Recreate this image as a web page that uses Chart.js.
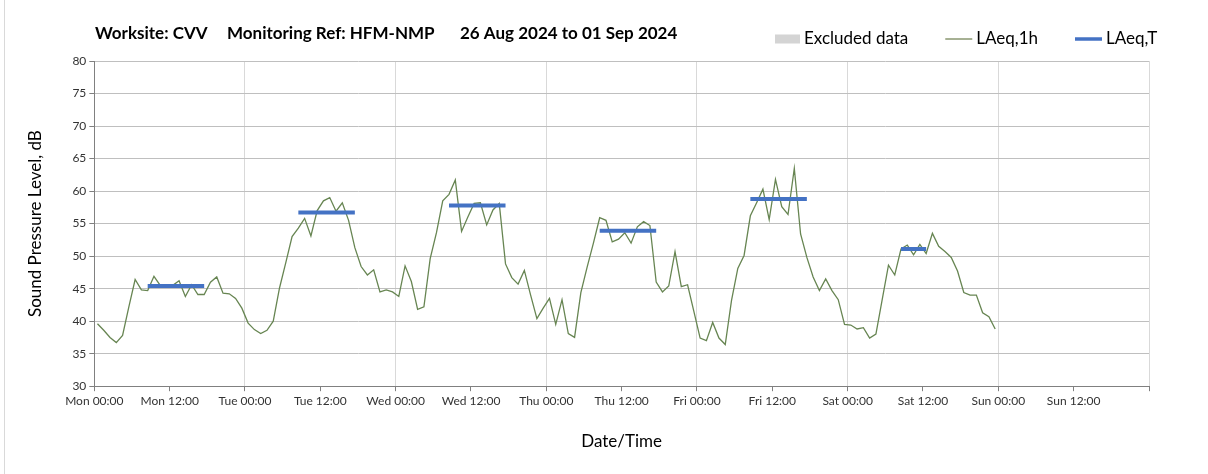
<!DOCTYPE html>
<html>
<head>
<meta charset="utf-8">
<script src="https://cdn.jsdelivr.net/npm/chart.js@4.4.1/dist/chart.umd.min.js"></script>
<style>
  html, body { margin: 0; padding: 0; background: #fff; }
</style>
</head>
<body>
<canvas id="chart" width="1208" height="474"></canvas>
<script>
// hourly LAeq,1h values, Mon 00:00 .. Sat 23:00 (plotted mid-hour)
const laeq1h = [
  39.6, 38.6, 37.5, 36.7, 37.8, 42.2, 46.4, 44.8, 44.7, 46.9, 45.5, 45.3,
  45.5, 46.2, 43.8, 45.6, 44.1, 44.1, 46.0, 46.8, 44.3, 44.2, 43.5, 42.0,
  39.7, 38.7, 38.1, 38.6, 40.0, 45.1, 49.0, 53.0, 54.3, 55.8, 53.1, 57.0,
  58.5, 59.0, 56.9, 58.2, 55.5, 51.3, 48.4, 47.1, 47.9, 44.5, 44.8, 44.5,
  43.8, 48.5, 46.1, 41.8, 42.2, 49.6, 53.6, 58.5, 59.5, 61.7, 53.8, 56.0,
  58.1, 58.2, 54.8, 57.1, 58.1, 48.8, 46.7, 45.7, 47.8, 44.0, 40.4, 42.0,
  43.5, 39.5, 43.3, 38.1, 37.5, 44.4, 48.3, 52.0, 55.9, 55.5, 52.2, 52.6,
  53.6, 52.0, 54.5, 55.3, 54.7, 46.0, 44.5, 45.4, 50.7, 45.3, 45.6, 41.5,
  37.4, 37.0, 39.8, 37.4, 36.4, 43.2, 48.1, 50.1, 56.2, 58.2, 60.3, 55.6,
  61.8, 57.6, 56.4, 63.5, 53.4, 49.8, 46.8, 44.7, 46.5, 44.7, 43.3, 39.5,
  39.4, 38.8, 39.0, 37.4, 38.0, 43.3, 48.6, 47.1, 51.1, 51.7, 50.2, 51.8,
  50.4, 53.5, 51.5, 50.7, 49.8, 47.7, 44.4, 44.0, 44.0, 41.3, 40.7, 38.8
];

// LAeq,T daytime periods (first and last hour index) and levels
const periodStart = [8, 32, 56, 80, 104, 128];
const periodEnd = [17, 41, 65, 89, 113, 132];
const periodLevel = [45.4, 56.7, 57.8, 53.9, 58.8, 51.1];

const dayNames = ['Mon', 'Tue', 'Wed', 'Thu', 'Fri', 'Sat', 'Sun'];
const titleParts = ['Worksite: CVV', 'Monitoring Ref: HFM-NMP', '26 Aug 2024 to 01 Sep 2024'];

const FONT = "Lato, 'Open Sans', sans-serif";

const hourlyPoints = laeq1h.map((v, i) => ({ x: i + 0.5, y: v }));

const periodPoints = [];
periodStart.forEach((s, k) => {
  for (let h = s; h <= periodEnd[k]; h++) periodPoints.push({ x: h + 0.5, y: periodLevel[k] });
  periodPoints.push({ x: periodEnd[k] + 1, y: null });
});

// title row + legend, drawn on the same line
const headerPlugin = {
  id: 'header',
  afterDraw(chart) {
    const ctx = chart.ctx;
    ctx.save();
    ctx.strokeStyle = '#d9d9d9';
    ctx.lineWidth = 1;
    ctx.beginPath();
    ctx.moveTo(4.5, 0);
    ctx.lineTo(4.5, chart.height);
    ctx.stroke();

    ctx.textBaseline = 'middle';
    ctx.fillStyle = '#000';
    ctx.font = 'bold 17px ' + FONT;
    const tx = [95, 227, 460];
    titleParts.forEach((t, i) => ctx.fillText(t, tx[i], 34));

    ctx.font = '17px ' + FONT;
    let x = 775;
    const y = 39;
    chart.data.datasets.forEach(ds => {
      if (ds.legendBox) {
        ctx.fillStyle = ds.backgroundColor;
        ctx.fillRect(x, y - 4.5, 25, 9);
        x += 29;
      } else {
        ctx.strokeStyle = ds.legendColor;
        ctx.lineWidth = ds.borderWidth > 2 ? 3.5 : 1;
        ctx.beginPath();
        ctx.moveTo(x, y);
        ctx.lineTo(x + 27, y);
        ctx.stroke();
        x += 31;
      }
      ctx.fillStyle = '#000';
      ctx.fillText(ds.label, x, y);
      x += ctx.measureText(ds.label).width + 37;
    });
    ctx.restore();
  }
};

new Chart(document.getElementById('chart'), {
  type: 'line',
  data: {
    datasets: [
      {
        label: 'Excluded data',
        data: [],
        legendBox: true,
        backgroundColor: '#d4d4d4',
        borderColor: '#d4d4d4',
        borderWidth: 0
      },
      {
        label: 'LAeq,1h',
        data: hourlyPoints,
        borderColor: '#678552',
        legendColor: '#4f6228',
        borderWidth: 1.3,
        pointRadius: 0,
        tension: 0,
        order: 2
      },
      {
        label: 'LAeq,T',
        data: periodPoints,
        borderColor: '#4472c4',
        legendColor: '#4472c4',
        borderWidth: 4,
        pointRadius: 0,
        spanGaps: false,
        order: 1
      }
    ]
  },
  options: {
    responsive: false,
    animation: false,
    layout: { padding: { top: 61, right: 59, bottom: 22, left: 25 } },
    plugins: {
      legend: { display: false },
      title: { display: false },
      tooltip: { enabled: false }
    },
    scales: {
      x: {
        type: 'linear',
        min: 0,
        max: 168,
        ticks: {
          stepSize: 12,
          autoSkip: false,
          maxRotation: 0,
          padding: 3,
          color: '#333',
          font: { family: FONT, size: 12 },
          callback: v => v < 168 ? dayNames[Math.floor(v / 24)] + ' ' + (v % 24 ? '12:00' : '00:00') : ''
        },
        grid: {
          color: c => (c.tick && c.tick.value % 24 === 0) ? '#d9d9d9' : 'rgba(0,0,0,0)',
          tickColor: '#808080',
          tickLength: 5
        },
        border: { color: '#808080' },
        title: {
          display: true,
          text: 'Date/Time',
          color: '#000',
          font: { family: FONT, size: 17 },
          padding: { top: 20, bottom: 0 }
        }
      },
      y: {
        min: 30,
        max: 80,
        ticks: {
          stepSize: 5,
          padding: 3,
          color: '#333',
          font: { family: FONT, size: 12 }
        },
        grid: { color: '#bfbfbf', tickColor: '#808080', tickLength: 5 },
        border: { color: '#808080' },
        title: {
          display: true,
          text: 'Sound Pressure Level, dB',
          color: '#000',
          font: { family: FONT, size: 17 },
          padding: { top: 0, bottom: 24 }
        }
      }
    }
  },
  plugins: [headerPlugin]
});
</script>
</body>
</html>
